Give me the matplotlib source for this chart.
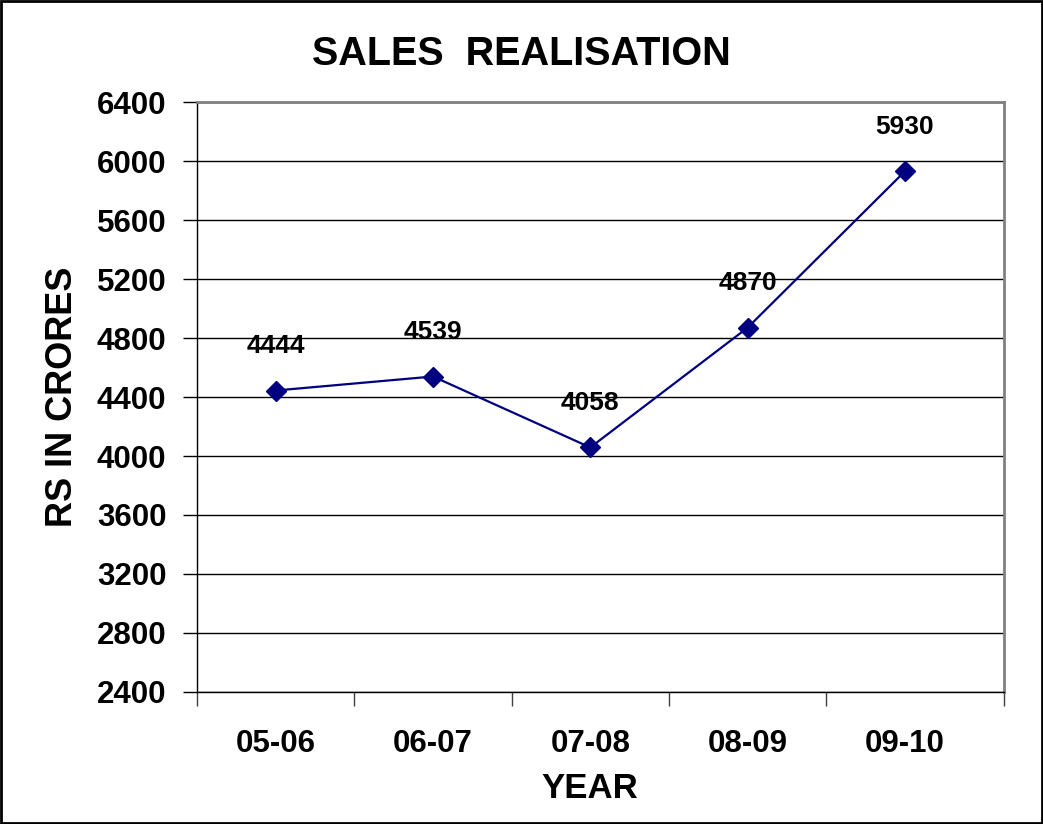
import matplotlib
matplotlib.use("Agg")
import matplotlib.pyplot as plt
from matplotlib.patches import Rectangle

# dados do gráfico
years = ["05-06", "06-07", "07-08", "08-09", "09-10"]
sales = [4444, 4539, 4058, 4870, 5930]
yticks = [2400, 2800, 3200, 3600, 4000, 4400, 4800, 5200, 5600, 6000, 6400]

plt.rcParams['font.family'] = ['Liberation Sans', 'DejaVu Sans']
plt.rcParams['font.weight'] = 'bold'

fig = plt.figure(figsize=(10.43, 8.24), dpi=100)
ax = fig.add_axes([0.1889, 0.1602, 0.7737, 0.716])

x = range(len(years))
ax.plot(x, sales, color='#000080', lw=1.6, marker='D', ms=10, zorder=3)
for xi, v in zip(x, sales):
    ax.annotate(str(v), (xi, v), xytext=(0, 32), textcoords='offset points',
                ha='center', va='center', fontsize=19, fontweight='bold')

xmax = 4.63
ax.set_xlim(-0.5, xmax)
ax.set_ylim(2400, 6400)
ax.set_yticks(yticks)
ax.set_yticklabels([str(t) for t in yticks], fontsize=22.5, fontweight='bold')
ax.set_xticks(list(x))
ax.set_xticklabels(years, fontsize=22.5, fontweight='bold')
ax.tick_params(axis='x', length=0, pad=27)
ax.set_xticks([i - 0.5 for i in range(len(years))] + [xmax], minor=True)
ax.tick_params(axis='x', which='minor', length=10, width=1, color='#404040')
ax.tick_params(axis='y', length=10, width=1, pad=12)

ax.grid(axis='y', color='black', lw=1)
ax.set_axisbelow(True)
for s in ['top', 'right']:
    ax.spines[s].set_color('#808080')
    ax.spines[s].set_linewidth(2)
for s in ['left', 'bottom']:
    ax.spines[s].set_color('black')
    ax.spines[s].set_linewidth(1)

fig.text(521 / 1043, 1 - 54 / 824, "SALES  REALISATION", fontsize=28.5,
         fontweight='bold', ha='center', va='center')
fig.text(590 / 1043, 1 - 788 / 824, "YEAR", fontsize=25,
         fontweight='bold', ha='center', va='center')
ax.set_ylabel("RS IN CRORES", fontsize=26, fontweight='bold', labelpad=12)

# moldura externa
fig.patches.append(Rectangle((0.001, 0.001), 0.998, 0.998, transform=fig.transFigure,
                             fill=False, edgecolor='black', lw=2))

fig.savefig("out.png", dpi=100)
